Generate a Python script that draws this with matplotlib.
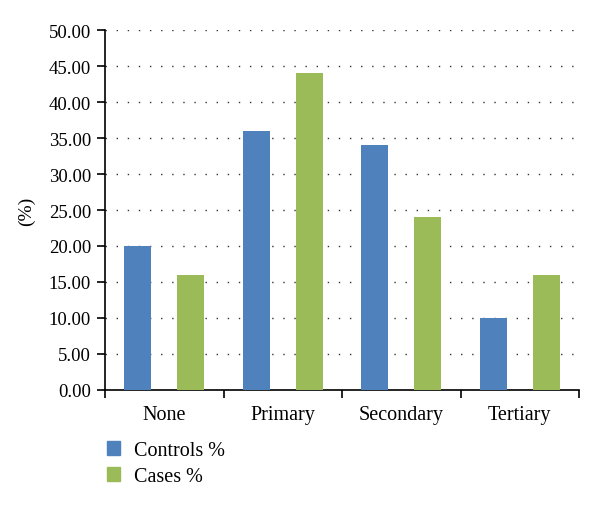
import numpy as np
import matplotlib.pyplot as plt
from matplotlib.patches import Patch

# Data
categories = ["None", "Primary", "Secondary", "Tertiary"]
controls = [20.0, 36.0, 34.0, 10.0]
cases = [16.0, 44.0, 24.0, 16.0]
yticks = np.arange(0, 50.01, 5)

plt.rcParams['font.family'] = ['Liberation Serif', 'DejaVu Serif']

fig = plt.figure(figsize=(6, 5.06), dpi=100)
ax = fig.add_axes([0.175, 0.2273, 0.79, 0.7114])

x = np.arange(len(categories))
w = 0.23
ax.bar(x - 0.224, controls, width=w, color="#4F81BD", label="Controls %", zorder=3)
ax.bar(x + 0.224, cases, width=w, color="#9BBB59", label="Cases %", zorder=3)

ax.set_xlim(-0.5, len(categories) - 0.5)
ax.set_ylim(0, 50)
ax.set_yticks(yticks)
ax.set_yticklabels([f"{v:.2f}" for v in yticks], fontsize=13.5)

# category labels between boundary ticks
ax.set_xticks(np.arange(-0.5, len(categories), 1.0))
ax.set_xticklabels([])
ax.set_xticks(x, minor=True)
ax.set_xticklabels(categories, minor=True, fontsize=14.5)
ax.tick_params(axis='x', which='minor', length=0, pad=11)
ax.tick_params(axis='x', which='major', length=6, width=1.2, direction='out')
ax.tick_params(axis='y', length=6, width=1.2, direction='out', pad=4)

ax.yaxis.grid(True, linestyle=(0, (1, 7)), color="#333333", linewidth=1.0, zorder=0)
ax.set_axisbelow(True)
for s in ["top", "right"]:
    ax.spines[s].set_visible(False)
for s in ["left", "bottom"]:
    ax.spines[s].set_linewidth(1.2)

ax.set_ylabel("(%)", fontsize=14, labelpad=10)

handles = [Patch(color="#4F81BD", label="Controls %"), Patch(color="#9BBB59", label="Cases %")]
fig.legend(handles=handles, loc="upper left", bbox_to_anchor=(0.148, 0.162), frameon=False,
           fontsize=14.5, handlelength=0.65, handleheight=0.65, handletextpad=0.7, labelspacing=0.35)

fig.savefig("out.png", dpi=100)
